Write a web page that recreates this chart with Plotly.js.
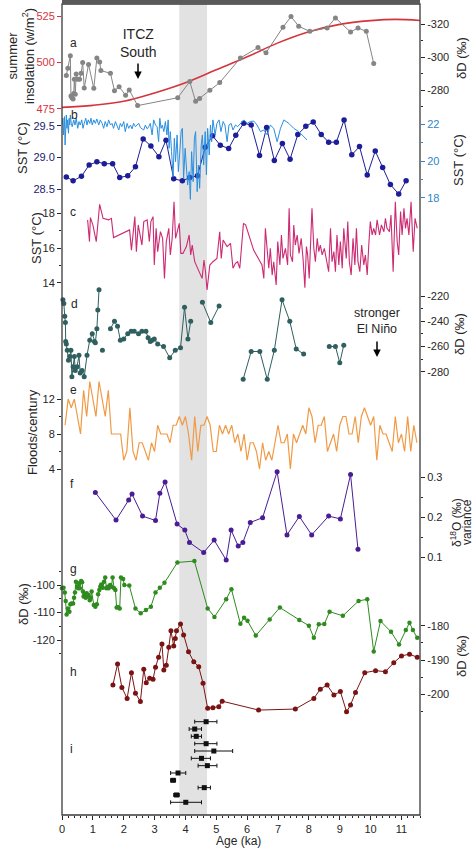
<!DOCTYPE html>
<html><head><meta charset="utf-8">
<script src="https://cdn.plot.ly/plotly-3.0.1.min.js"></script>
<style>html,body{margin:0;padding:0;background:#fff}#chart{width:474px;height:850px}</style>
</head><body><div id="chart"></div>
<script>
// ---------------- DATA ----------------
const ageTicks = [0,1,2,3,4,5,6,7,8,9,10,11];
const bandAge = [3.8, 4.7];

// a: summer insolation (red) and deltaD (gray)
const insolAge = [0,1,2,3,4,5,6,7,8,9,10,10.8,11.6];
const insolVal = [475.7,476.8,479,483.5,489,496,503,510.5,516.5,520.5,522.5,523.2,522.6];
const aAge = [0.14,0.19,0.27,0.29,0.32,0.36,0.38,0.40,0.43,0.46,0.51,0.57,0.62,0.67,0.72,0.86,1.03,1.13,1.22,1.26,1.57,1.70,1.85,2.06,2.18,2.45,3.75,4.14,4.33,4.46,4.79,5.11,5.78,6.35,6.61,7.16,7.42,7.67,8.03,8.59,8.86,9.35,9.59,9.86,10.10];
const aVal = [-288.9,-293.2,-300.9,-276.4,-275.3,-274.5,-277.8,-286.5,-277.4,-289.8,-286.5,-286.5,-290.2,-296.7,-281.2,-295.6,-281.0,-299.5,-297.1,-291.8,-290.2,-279.6,-282.0,-276.8,-280.0,-270.5,-275.3,-285.1,-273.1,-274.9,-279.8,-284.5,-299.5,-305.8,-302.7,-318.2,-324.7,-318.8,-315.7,-317.8,-323.9,-315.3,-317.8,-315.7,-296.2];

// b: SST dark blue (left) and light blue (right)
const bAge = [0.14,0.36,0.63,0.88,1.13,1.37,1.64,1.87,2.13,2.38,2.63,2.88,3.14,3.37,3.62,3.90,4.14,4.39,4.64,4.88,5.13,5.40,5.63,5.89,6.13,6.40,6.63,6.88,7.14,7.39,7.64,7.90,8.14,8.40,8.64,8.89,9.14,9.39,9.64,9.89,10.15,10.39,10.64,10.91,11.15];
const bVal = [28.69,28.63,28.70,28.88,28.93,28.90,28.90,28.68,28.71,28.85,29.29,29.18,29.01,29.27,28.66,28.63,28.68,28.71,29.16,29.34,29.19,29.14,29.35,29.54,29.51,29.03,29.47,28.95,29.22,28.97,29.36,29.49,29.56,29.36,29.24,29.24,29.59,29.04,29.17,28.72,29.10,28.84,28.57,28.42,28.63];
const b2Age = [0.00,0.03,0.05,0.08,0.10,0.12,0.14,0.16,0.18,0.21,0.23,0.25,0.27,0.30,0.33,0.38,0.42,0.46,0.51,0.55,0.59,0.64,0.68,0.72,0.77,0.81,0.85,0.90,0.94,0.98,1.03,1.08,1.13,1.19,1.24,1.30,1.35,1.40,1.46,1.51,1.57,1.62,1.67,1.73,1.78,1.84,1.89,1.94,2.00,2.05,2.11,2.16,2.22,2.27,2.32,2.38,2.43,2.49,2.54,2.59,2.65,2.70,2.76,2.81,2.86,2.92,2.97,3.03,3.08,3.13,3.17,3.21,3.25,3.30,3.35,3.40,3.44,3.47,3.51,3.55,3.60,3.64,3.68,3.73,3.77,3.81,3.86,3.90,3.94,3.99,4.03,4.07,4.12,4.16,4.20,4.25,4.29,4.33,4.38,4.42,4.46,4.51,4.55,4.59,4.64,4.68,4.72,4.77,4.81,4.85,4.89,4.96,5.02,5.09,5.15,5.22,5.28,5.35,5.41,5.48,5.54,5.62,5.69,5.78,5.89,6.00,6.10,6.21,6.32,6.43,6.54,6.65,6.75,6.86,6.97,7.08,7.19,7.35,7.51,7.67,7.83,7.94];
const b2Val = [21.96,22.33,21.42,22.42,20.87,22.15,22.51,21.78,22.24,21.51,22.33,21.96,22.51,22.05,21.87,22.24,21.96,22.33,21.78,22.15,21.96,22.24,21.78,22.05,22.33,21.96,22.24,22.05,22.33,21.96,22.24,22.05,22.29,21.96,22.24,22.05,21.78,22.15,21.87,22.24,21.96,22.05,21.78,22.15,21.96,21.69,22.05,21.87,22.15,21.60,22.05,21.78,21.96,21.75,22.05,21.87,21.96,22.05,21.82,21.78,21.69,21.96,21.75,21.87,22.05,21.42,22.24,21.96,21.87,21.05,22.33,21.78,21.96,21.60,22.15,21.42,22.24,20.69,21.60,20.51,19.15,21.24,19.96,21.42,19.42,20.33,21.60,21.78,19.05,20.69,19.78,18.69,19.42,17.91,20.51,18.87,21.24,21.60,18.33,19.78,18.51,20.87,21.42,19.78,21.60,19.24,21.78,20.33,21.96,21.05,22.24,21.42,22.05,22.24,21.60,22.15,21.96,21.05,21.96,22.05,21.69,21.96,21.87,22.05,22.24,22.05,22.15,22.18,21.96,21.60,21.69,21.42,21.96,21.78,21.05,21.78,22.24,22.05,21.78,21.60,21.33,21.15];

// c: SST magenta
const cAge = [0.83,0.89,0.92,1.00,1.11,1.22,1.33,1.51,1.60,1.67,2.19,2.25,2.36,2.41,2.47,2.54,2.59,2.65,2.76,2.83,2.88,2.95,2.99,3.05,3.10,3.19,3.26,3.32,3.38,3.46,3.51,3.57,3.63,3.68,3.73,3.80,3.85,3.92,4.03,4.12,4.17,4.22,4.30,4.38,4.46,4.54,4.60,4.65,4.70,4.79,4.89,5.02,5.11,5.16,5.22,5.35,5.46,5.54,5.62,5.69,5.76,5.88,5.95,6.21,6.48,6.54,6.59,6.65,6.70,6.75,6.81,6.86,6.94,6.99,7.06,7.11,7.16,7.24,7.31,7.36,7.40,7.47,7.51,7.56,7.62,7.68,7.75,7.81,7.87,7.92,7.96,8.01,8.06,8.10,8.16,8.21,8.27,8.32,8.37,8.43,8.50,8.57,8.64,8.70,8.75,8.81,8.86,8.91,8.97,9.02,9.08,9.13,9.21,9.26,9.31,9.37,9.43,9.49,9.54,9.59,9.65,9.71,9.78,9.83,9.89,9.94,9.99,10.05,10.10,10.16,10.21,10.29,10.35,10.43,10.48,10.53,10.61,10.66,10.73,10.80,10.86,10.91,10.97,11.02,11.08,11.13,11.18,11.24,11.31,11.38,11.44,11.51];
const cVal = [17.62,16.37,17.75,17.33,16.37,18.52,17.71,17.62,17.71,16.60,17.04,15.88,17.81,15.79,17.33,16.56,16.17,17.52,17.62,16.37,17.52,17.81,15.02,17.13,15.79,16.94,16.56,14.25,16.37,17.13,15.60,16.56,18.67,16.56,16.94,17.42,15.69,15.69,16.08,16.75,15.60,16.17,15.21,14.92,14.63,14.25,15.31,14.63,13.58,15.02,15.21,15.40,16.94,15.40,16.46,16.08,16.27,14.83,15.12,15.21,14.83,17.42,17.33,15.88,15.02,14.25,17.13,15.60,14.83,15.98,14.44,15.21,13.87,16.37,15.02,16.75,15.40,15.98,15.02,18.29,15.60,15.21,17.33,16.17,16.75,15.69,16.56,15.40,13.71,16.08,15.60,14.25,17.13,18.29,15.98,15.21,16.56,15.79,16.17,15.60,15.98,15.21,14.63,17.13,15.21,15.79,14.63,16.75,15.02,16.37,14.83,17.13,15.40,17.52,15.21,14.44,16.56,15.02,17.13,15.21,14.63,16.17,15.02,15.60,14.44,16.17,17.52,16.75,17.13,16.75,17.62,16.75,17.33,16.94,17.71,17.13,16.94,17.90,14.63,18.67,16.37,15.60,18.10,16.75,18.29,17.13,17.71,16.75,18.67,15.79,17.71,17.13];

// d: deltaD teal (null = gap in record)
const dAge = [0.03,0.06,0.09,0.11,0.12,0.14,0.17,0.21,0.25,0.29,0.32,0.36,0.40,0.43,0.49,0.55,0.59,0.65,0.72,0.81,0.90,0.98,1.05,1.08,1.13,1.16,1.20,1.25,1.31,1.45,1.57,1.70,1.80,1.89,2.00,2.13,2.24,2.34,2.48,2.59,2.72,2.79,2.86,2.92,2.99,3.10,3.29,3.49,3.67,3.84,3.97,4.08,4.17,4.35,4.55,4.82,5.09,5.50,5.87,6.13,6.41,6.65,6.88,7.13,7.38,7.59,7.83,8.20,8.66,8.86,9.00,9.13];
const dVal = [-223,-226,-236,-241,-256,-258,-263,-271,-268,-263,-284,-276,-268,-279,-276,-267,-281,-279,-284,-267,-255,-250,-256,-257,-246,-231,-215,null,-263,null,-246,-240,-244,-255,-254,-250,-248,-248,-250,-248,-248,-253,-256,-255,-254,-258,-260,-269,-263,-261,-229,-254,-240,null,-225,-241,-228,null,-286,-264,-264,-286,-263,-223,-240,-262,-266,null,-260,-260,-273,-259];

// e: floods per century
const eAge = [0.1,0.2,0.3,0.4,0.5,0.6,0.7,0.8,0.9,1.0,1.1,1.2,1.3,1.4,1.5,1.6,1.7,1.8,1.9,2.0,2.1,2.2,2.3,2.4,2.5,2.6,2.7,2.8,2.9,3.0,3.1,3.2,3.3,3.4,3.5,3.6,3.7,3.8,3.9,4.0,4.1,4.2,4.3,4.4,4.5,4.6,4.7,4.8,4.9,5.0,5.1,5.2,5.3,5.4,5.5,5.6,5.7,5.8,5.9,6.0,6.1,6.2,6.3,6.4,6.5,6.6,6.7,6.8,6.9,7.0,7.1,7.2,7.3,7.4,7.5,7.6,7.7,7.8,7.9,8.0,8.1,8.2,8.3,8.4,8.5,8.6,8.7,8.8,8.9,9.0,9.1,9.2,9.3,9.4,9.5,9.6,9.7,9.8,9.9,10.0,10.1,10.2,10.3,10.4,10.5,10.6,10.7,10.8,10.9,11.0,11.1,11.2,11.3,11.4,11.5];
const eVal = [9,12,11,12,10,8,13,10,14,12,10,14,12,10,13,8,8,8,8,5,6,11,6,5,7,7,6,5,7,6,9,8,8,8,7,9,9,10,9,10,8,5,10,6,9,9,10,9,6,6,9,8,9,8,9,7,8,6,8,5,7,7,6,4,7,5,6,5,7,9,7,7,8,4,8,7,8,9,8,11,10,7,9,9,10,6,7,8,6,9,10,10,8,8,10,7,10,11,10,9,10,5,9,8,8,7,6,10,7,8,6,10,6,9,7];

// f: d18O variance
const fAge = [1.08,1.75,2.16,2.27,2.61,3.03,3.17,3.34,3.73,3.98,4.13,4.59,4.93,5.32,5.48,5.71,5.86,6.10,6.50,6.97,7.29,7.69,8.09,8.64,9.02,9.35,9.59];
const fVal = [0.262,0.193,0.243,0.258,0.203,0.192,0.260,0.288,0.183,0.168,0.137,0.112,0.143,0.093,0.168,0.128,0.137,0.187,0.199,0.314,0.156,0.202,0.156,0.203,0.196,0.307,0.120];

// g: deltaD green
const gAge = [0.00,0.05,0.09,0.12,0.15,0.19,0.24,0.27,0.31,0.36,0.39,0.42,0.45,0.49,0.52,0.55,0.58,0.62,0.65,0.68,0.70,0.73,0.77,0.80,0.83,0.86,0.90,0.93,0.96,1.03,1.08,1.13,1.17,1.21,1.24,1.27,1.32,1.36,1.40,1.44,1.48,1.51,1.56,1.60,1.64,1.69,1.73,1.77,1.82,1.87,1.91,1.98,2.02,2.18,2.38,2.55,2.72,2.88,3.03,3.17,3.32,3.74,4.29,4.72,4.94,5.32,5.49,5.78,5.90,6.01,6.28,6.73,7.06,7.69,8.00,8.16,8.32,8.50,8.67,9.10,9.61,9.89,10.10,10.32,10.66,10.92,11.14,11.26,11.37,11.51];
const gVal = [-101.2,-101.0,-102.7,-105.8,-110.7,-108.5,-109.7,-107.0,-106.7,-106.7,-104.6,-102.7,-98.8,-100.6,-101.2,-99.4,-101.2,-98.5,-99.0,-102.4,-104.2,-103.4,-104.6,-103.0,-104.2,-103.6,-105.5,-104.6,-102.4,-107.3,-107.9,-107.0,-103.4,-101.8,-100.6,-99.8,-101.0,-98.8,-97.3,-101.2,-100.6,-101.2,-100.0,-100.6,-97.3,-101.2,-101.8,-108.2,-108.1,-108.5,-97.3,-97.8,-100.0,-100.2,-108.5,-110.3,-109.1,-107.9,-102.7,-101.0,-99.2,-91.8,-91.3,-108.5,-111.6,-105.2,-101.5,-114.1,-111.9,-113.0,-118.4,-112.5,-108.2,-112.7,-114.8,-119.2,-114.3,-114.2,-109.7,-111.2,-105.8,-105.2,-124.2,-113.1,-117.0,-121.6,-116.4,-113.7,-116.4,-119.2];

// h: deltaD dark red
const hAge = [1.65,1.80,1.94,2.11,2.25,2.38,2.54,2.65,2.73,2.84,2.95,3.03,3.13,3.24,3.30,3.38,3.46,3.53,3.62,3.67,3.71,3.84,3.94,4.10,4.27,4.43,4.57,4.72,4.89,5.08,5.19,6.37,7.56,8.16,8.37,8.59,8.81,9.02,9.22,9.35,9.51,9.81,10.16,10.48,10.75,11.00,11.26,11.51];
const hVal = [-197.3,-191.2,-198.0,-201.2,-193.7,-199.7,-202.1,-192.7,-196.6,-195.3,-195.6,-192.1,-189.2,-185.3,-192.9,-191.5,-186.3,-181.5,-185.9,-183.7,-181.5,-179.5,-182.7,-187.6,-190.5,-192.0,-196.8,-204.1,-203.9,-203.6,-202.0,-204.6,-204.3,-201.2,-198.5,-197.3,-200.2,-199.2,-205.1,-203.1,-199.5,-193.7,-193.1,-193.4,-190.8,-188.8,-188.3,-189.2];

// i: ages with uncertainty ranges
const iRow = [1,2,3,4,5,6,7,8,9,10,11,12];
const iAge = [4.67,4.30,4.35,4.67,4.92,4.52,4.71,3.76,3.60,4.61,3.71,4.01];
const iLo  = [4.30,4.12,4.19,4.30,4.30,4.19,4.41,3.52,3.52,4.41,3.62,3.52];
const iHi  = [5.02,4.52,4.52,5.02,5.53,4.81,5.02,4.01,3.68,4.81,3.80,4.52];

// ---------------- LAYOUT HELPERS ----------------
const W=474, H=850, L=62, R=420, T=4, B=815;
function rng(v1,p1,v2,p2){const s=(v2-v1)/(p2-p1);return [v1+(B-p1)*s, v1+(T-p1)*s];}
function PX(x){return (x-L)/(R-L);}
function PY(y){return 1-(y-T)/(B-T);}
const FONT='Arial, "Liberation Sans", sans-serif';
const DARK='#262626';

function yax(side, range, tickvals, ticktext, color, minorvals, first){
  const o = {side, range, domain:[0,1], anchor:'x', showgrid:false, zeroline:false, showline:false,
    ticks:'outside', ticklen:4, tickwidth:1, tickcolor:color, tickmode:'array', tickvals, ticktext,
    tickfont:{size:11,color:color, family:FONT}, fixedrange:true, automargin:false};
  if(!first) o.overlaying='y';
  if(minorvals) o.minor={tickmode:'array', tickvals:minorvals, ticks:'outside', ticklen:2, tickwidth:1, tickcolor:color, showgrid:false};
  return o;
}
function lbl(arr,d){return arr.map(v=>v.toFixed(d));}

const C = {red:'#d5343c', gray:'#858585', navy:'#1d1d9a', lblue:'#2a8fe0', mag:'#cc2a72', teal:'#2f5f5f',
           orange:'#f09a45', purple:'#4a1d94', green:'#2e8b1e', dred:'#7a1414', black:'#111'};

const traces = [
  {x:insolAge, y:insolVal, yaxis:'y', mode:'lines', line:{color:C.red, width:1.6, shape:'spline'}},
  {x:aAge, y:aVal, yaxis:'y2', mode:'lines+markers', line:{color:C.gray, width:1}, marker:{color:C.gray, size:5}},
  {x:b2Age, y:b2Val, yaxis:'y4', mode:'lines', line:{color:C.lblue, width:1}},
  {x:bAge, y:bVal, yaxis:'y3', mode:'lines+markers', line:{color:C.navy, width:1}, marker:{color:C.navy, size:5.5}},
  {x:cAge, y:cVal, yaxis:'y5', mode:'lines', line:{color:C.mag, width:1.1}},
  {x:dAge, y:dVal, yaxis:'y6', mode:'lines+markers', line:{color:C.teal, width:1}, marker:{color:C.teal, size:5}, connectgaps:false},
  {x:eAge, y:eVal, yaxis:'y7', mode:'lines', line:{color:C.orange, width:1.2}},
  {x:fAge, y:fVal, yaxis:'y8', mode:'lines+markers', line:{color:C.purple, width:1}, marker:{color:C.purple, size:5}},
  {x:gAge, y:gVal, yaxis:'y9', mode:'lines+markers', line:{color:C.green, width:1}, marker:{color:C.green, size:4.5}},
  {x:hAge, y:hVal, yaxis:'y10', mode:'lines+markers', line:{color:C.dred, width:1}, marker:{color:C.dred, size:5}},
  {x:iAge, y:iRow, yaxis:'y11', mode:'markers', marker:{color:C.black, size:5, symbol:'square'},
   error_x:{type:'data', symmetric:false, array:iHi.map((h,k)=>h-iAge[k]), arrayminus:iAge.map((a,k)=>a-iLo[k]), color:C.black, thickness:1, width:2}}
];
traces.forEach(t=>{t.xaxis='x'; t.showlegend=false; t.hoverinfo='skip'; t.cliponaxis=false;});

const ann = [];
function A(text,x,y,opt){ann.push(Object.assign({text, xref:'paper', yref:'paper', x:PX(x), y:PY(y), showarrow:false,
  xanchor:'center', yanchor:'middle', font:{size:13, color:DARK, family:FONT}}, opt||{}));}
// axis titles
A('summer<br>insolation (w/m<sup>2</sup>)', 21, 56, {textangle:-90});
A('δD (‰)', 461, 58, {textangle:-90});
A('SST (°C)', 23, 148, {textangle:-90});
A('SST (°C)', 458, 160, {textangle:-90});
A('SST (°C)', 37, 238, {textangle:-90});
A('δD (‰)', 459, 334, {textangle:-90});
A('Floods/century', 33, 432, {textangle:-90});
A('δ<sup>18</sup>O (‰)', 456, 523, {textangle:-90, font:{size:12, color:DARK, family:FONT}});
A('variance', 467, 522, {textangle:-90, font:{size:12, color:DARK, family:FONT}});
A('δD (‰)', 23, 604, {textangle:-90});
A('δD (‰)', 461, 656, {textangle:-90});
A('Age (ka)', 238, 841, {font:{size:12, color:DARK, family:FONT}});
// panel letters
[['a',73,43],['b',74,115],['c',73,212],['d',74,304],['e',73,390],['f',72,484],['g',73,569],['h',73,672],['i',71,749]]
  .forEach(p=>A(p[0],p[1],p[2],{font:{size:12,color:DARK,family:FONT}}));
// notes
A('ITCZ<br>South', 138, 43, {font:{size:14,color:DARK,family:FONT}});
A('stronger<br>El Niño', 377, 321, {font:{size:12.5,color:DARK,family:FONT}});
ann.push({xref:'paper', yref:'paper', x:PX(138), y:PY(79), ax:0, ay:-17, text:'', showarrow:true, arrowhead:2, arrowsize:1, arrowwidth:1.5, arrowcolor:'#000'});
ann.push({xref:'paper', yref:'paper', x:PX(377), y:PY(357), ax:0, ay:-17, text:'', showarrow:true, arrowhead:2, arrowsize:1, arrowwidth:1.5, arrowcolor:'#000'});

const layout = {
  width:W, height:H, margin:{l:L, r:W-R, t:T, b:H-B, pad:0},
  paper_bgcolor:'#fff', plot_bgcolor:'rgba(0,0,0,0)', showlegend:false,
  font:{family:FONT, color:DARK, size:11},
  xaxis:{range:[0,11.6], domain:[0,1], tickmode:'array', tickvals:ageTicks, ticks:'outside', ticklen:4, tickwidth:1, tickcolor:DARK,
    showgrid:false, zeroline:false, showline:false, tickfont:{size:11,color:DARK,family:FONT}, fixedrange:true, automargin:false,
    minor:{dtick:0.2, tick0:0, ticks:'outside', ticklen:2, tickwidth:1, tickcolor:DARK, showgrid:false}},
  yaxis:  yax('left',  rng(525,16,475,108.7), [475,500,525], ['475','500','525'], C.red, null, true),
  yaxis2: yax('right', rng(-320,24.3,-280,90), [-320,-300,-280], ['-320','-300','-280'], DARK, [-310,-290,-270]),
  yaxis3: yax('left',  rng(29.5,125.7,28.5,189), [28.5,29.0,29.5], lbl([28.5,29.0,29.5],1), '#22226e', null),
  yaxis4: yax('right', rng(22,124.3,18,197.7), [18,20,22], ['18','20','22'], '#2f86c8', [19,21]),
  yaxis5: yax('left',  rng(18,213.3,14,282.7), [14,16,18], ['14','16','18'], DARK, [15,17]),
  yaxis6: yax('right', rng(-220,296,-280,371.7), [-280,-260,-240,-220], ['-280','-260','-240','-220'], DARK, [-270,-250,-230]),
  yaxis7: yax('left',  rng(12,399,4,469), [4,8,12], ['4','8','12'], DARK, [6,10]),
  yaxis8: yax('right', rng(0.3,477.3,0.1,557.3), [0.1,0.2,0.3], ['0.1','0.2','0.3'], DARK, [0.15,0.25]),
  yaxis9: yax('left',  rng(-100,585,-120,640), [-120,-110,-100], ['-120','-110','-100'], DARK, [-125,-115,-105,-95]),
  yaxis10:yax('right', rng(-180,625.7,-200,694.3), [-200,-190,-180], ['-200','-190','-180'], DARK, [-205,-195,-185]),
  yaxis11:{overlaying:'y', range:rng(1,721.7,12,802.3), domain:[0,1], anchor:'x', visible:false, fixedrange:true},
  shapes:[
    {type:'rect', xref:'x', yref:'paper', x0:bandAge[0], x1:bandAge[1], y0:0, y1:1, fillcolor:'#e2e2e2', line:{width:0}, layer:'below'},
    {type:'rect', xref:'paper', yref:'paper', x0:0, x1:1, y0:0, y1:1, line:{color:'#3a3a3a', width:1.3}, fillcolor:'rgba(0,0,0,0)', layer:'above'},
    {type:'rect', xref:'paper', yref:'paper', x0:0, x1:1, y0:1, y1:1+T/(B-T), fillcolor:'#5a5a5a', line:{width:0}, layer:'above'}
  ],
  annotations: ann
};

Plotly.newPlot('chart', traces, layout, {staticPlot:true, displayModeBar:false});
</script>
</body></html>
